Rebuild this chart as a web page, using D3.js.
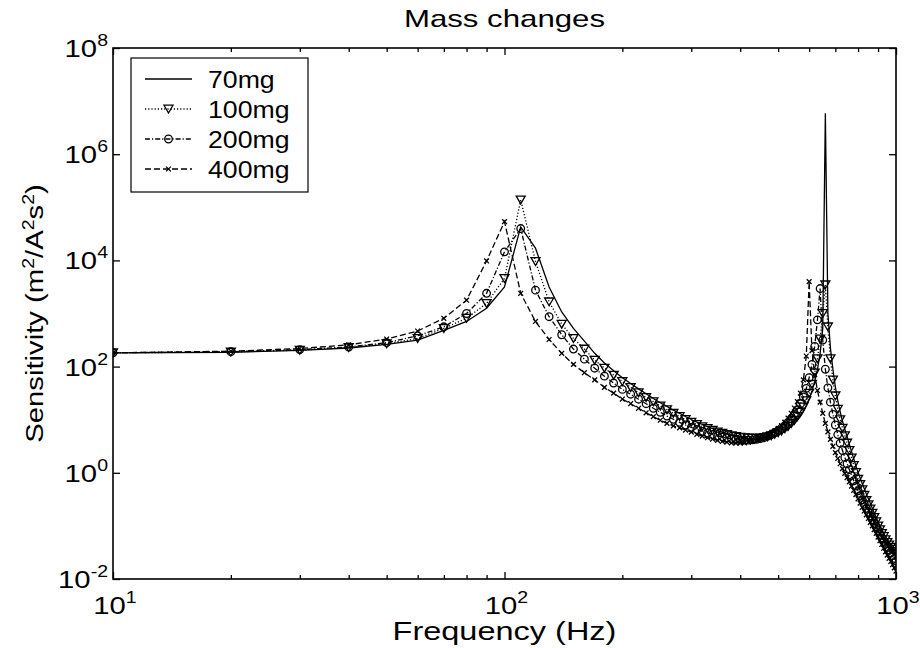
<!DOCTYPE html>
<html>
<head>
<meta charset="utf-8">
<script src="https://cdn.jsdelivr.net/npm/d3@7/dist/d3.min.js"></script>
<style>
  body { margin: 0; background: #fff; }
  text { font-family: Arial, "Liberation Sans", sans-serif; fill: #000; }
</style>
</head>
<body>
<div id="chart"></div>
<script>
// sample frequencies (Hz)
const freq = [
  10, 20, 30, 40, 50, 60, 70, 80, 90, 100,
  110, 120, 130, 140, 150, 160, 170, 180, 190, 200,
  210, 220, 230, 240, 250, 260, 270, 280, 290, 300,
  310, 320, 330, 340, 350, 360, 370, 380, 390, 400,
  410, 420, 430, 440, 450, 460, 470, 480, 490, 500,
  510, 520, 530, 540, 550, 560, 570, 580, 590, 600,
  610, 620, 630, 640, 650, 660, 670, 680, 690, 700,
  710, 720, 730, 740, 750, 760, 770, 780, 790, 800,
  810, 820, 830, 840, 850, 860, 870, 880, 890, 900,
  910, 920, 930, 940, 950, 960, 970, 980, 990, 1000
];

// sensitivity, m^2/A^2s^2
const s70 = [
  182, 186, 202, 224, 263, 316, 479, 708, 1260, 3160,
  42700, 17000, 3160, 1070, 525, 302, 178, 117, 83.2, 61.7,
  47.9, 38.0, 30.9, 25.1, 20.9, 17.8, 15.1, 13.2, 11.5, 10.1,
  9.02, 8.13, 7.41, 6.76, 6.24, 5.82, 5.43, 5.13, 4.90, 4.68,
  4.52, 4.42, 4.37, 4.32, 4.32, 4.37, 4.47, 4.68, 4.90, 5.19,
  5.56, 6.03, 6.61, 7.41, 8.41, 9.77, 11.5, 14.1, 18.2, 24.5,
  34.7, 52.5, 89.1, 178, 525, 5890000, 1000, 224, 89.1, 41.7,
  22.9, 14.1, 9.33, 6.61, 4.79, 3.47, 2.51, 1.82, 1.35, 1.02,
  0.794, 0.631, 0.501, 0.398, 0.324, 0.263, 0.214, 0.174, 0.145, 0.120,
  0.100, 0.0851, 0.0724, 0.0631, 0.0550, 0.0490, 0.0437, 0.0398, 0.0363, 0.0331
];
const s100 = [
  182, 188, 204, 229, 269, 339, 525, 813, 1550, 4570,
  138000, 9550, 1660, 631, 339, 214, 132, 93.3, 69.2, 52.5,
  40.7, 32.4, 26.3, 21.9, 18.2, 15.5, 13.2, 11.5, 10.1, 9.0,
  8.13, 7.41, 6.84, 6.31, 5.89, 5.56, 5.25, 5.01, 4.84, 4.68,
  4.57, 4.52, 4.47, 4.47, 4.52, 4.62, 4.79, 5.01, 5.31, 5.69,
  6.17, 6.76, 7.50, 8.51, 9.77, 11.5, 13.8, 17.4, 22.9, 31.6,
  46.8, 75.9, 141, 331, 1000, 3470, 562, 141, 56.2, 28.2,
  15.8, 10.0, 6.92, 5.01, 3.63, 2.63, 1.91, 1.38, 1.02, 0.759,
  0.603, 0.479, 0.380, 0.302, 0.251, 0.209, 0.174, 0.145, 0.120, 0.100,
  0.0851, 0.0724, 0.0631, 0.0550, 0.0490, 0.0437, 0.0398, 0.0363, 0.0331, 0.0302
];
const s200 = [
  182, 191, 209, 234, 282, 380, 562, 1000, 2400, 14500,
  39800, 2750, 871, 398, 214, 138, 93.3, 66.1, 49.0, 37.2,
  30.2, 24.3, 20.0, 16.4, 13.8, 11.7, 10.2, 8.91, 7.94, 7.16,
  6.53, 6.03, 5.62, 5.25, 4.95, 4.73, 4.52, 4.37, 4.27, 4.17,
  4.12, 4.12, 4.17, 4.27, 4.42, 4.62, 4.90, 5.25, 5.69, 6.24,
  6.92, 7.76, 8.91, 10.5, 12.6, 15.5, 20.0, 26.9, 38.9, 61.7,
  110, 240, 759, 2950, 316, 89.1, 39.8, 21.4, 12.6, 7.94,
  5.25, 3.63, 2.63, 1.95, 1.48, 1.15, 0.891, 0.708, 0.562, 0.457,
  0.372, 0.309, 0.257, 0.214, 0.182, 0.155, 0.132, 0.112, 0.0955, 0.0813,
  0.0692, 0.0589, 0.0513, 0.0447, 0.0389, 0.0347, 0.0309, 0.0275, 0.0245, 0.0219
];
const s400 = [
  182, 195, 219, 257, 331, 468, 813, 1780, 9770, 53700,
  2400, 708, 324, 178, 110, 76.7, 56.2, 40.7, 31.6, 24.5,
  20.0, 16.4, 13.5, 11.4, 9.77, 8.51, 7.67, 7.00, 6.38, 5.82,
  5.31, 4.90, 4.57, 4.32, 4.07, 3.89, 3.76, 3.67, 3.63, 3.63,
  3.67, 3.76, 3.89, 4.07, 4.32, 4.62, 5.01, 5.50, 6.10, 6.84,
  7.76, 9.02, 10.7, 13.2, 16.6, 21.9, 31.6, 56.2, 158, 3980,
  200, 70.8, 35.5, 21.4, 13.2, 8.51, 5.89, 4.27, 3.16, 2.40,
  1.86, 1.48, 1.20, 0.977, 0.813, 0.676, 0.562, 0.468, 0.389, 0.324,
  0.269, 0.224, 0.191, 0.162, 0.138, 0.117, 0.100, 0.0851, 0.0724, 0.0617,
  0.0525, 0.0447, 0.0380, 0.0324, 0.0282, 0.0245, 0.0214, 0.0186, 0.0162, 0.0141
];

const seriesNames = ["70mg", "100mg", "200mg", "400mg"];
const xMajor = [10, 100, 1000];
const xMinor = [20, 30, 40, 50, 60, 70, 80, 90, 200, 300, 400, 500, 600, 700, 800, 900];
const yMajor = [1e-2, 1, 1e2, 1e4, 1e6, 1e8];

const width = 920, height = 648;
const margin = {top: 48, right: 24, bottom: 69, left: 113};

const svg = d3.select("#chart").append("svg")
  .attr("width", width)
  .attr("height", height);

const x = d3.scaleLog().domain([10, 1000]).range([margin.left, width - margin.right]);
const y = d3.scaleLog().domain([1e-2, 1e8]).range([height - margin.bottom, margin.top]);

const styles = [
  {dash: null, marker: "none"},
  {dash: "1.2,2", marker: "tri"},
  {dash: "5,2,1.2,2", marker: "circle"},
  {dash: "6,3", marker: "x"}
];
const series = [s70, s100, s200, s400].map((vals, i) => ({
  name: seriesNames[i],
  style: styles[i],
  points: freq.map((f, j) => ({f: f, v: vals[j]}))
}));

svg.append("clipPath").attr("id", "plot-clip")
  .append("rect")
  .attr("x", x.range()[0]).attr("y", y.range()[1])
  .attr("width", x.range()[1] - x.range()[0])
  .attr("height", y.range()[0] - y.range()[1]);

function drawMarker(sel, type) {
  if (type == "tri") {
    sel.append("path").attr("d", "M-4.5,-3.8L4.5,-3.8L0,4Z");
  } else if (type == "circle") {
    sel.append("circle").attr("r", 3.8);
  } else if (type == "x") {
    sel.append("path").attr("d", "M-2.4,-2.4L2.4,2.4M-2.4,2.4L2.4,-2.4");
  }
  sel.selectAll("path, circle")
    .attr("fill", "none")
    .attr("stroke", "#000")
    .attr("stroke-width", 1.3);
}

const line = d3.line().x(d => x(d.f)).y(d => y(d.v));

const plot = svg.append("g").attr("clip-path", "url(#plot-clip)");

series.forEach(s => {
  const g = plot.append("g");
  g.append("path")
    .datum(s.points)
    .attr("d", line)
    .attr("fill", "none")
    .attr("stroke", "#000")
    .attr("stroke-width", 1.3)
    .attr("stroke-dasharray", s.style.dash);
  if (s.style.marker != "none") {
    g.selectAll("g.mk")
      .data(s.points)
      .join("g")
      .attr("class", "mk")
      .attr("transform", d => `translate(${x(d.f)},${y(d.v)})`)
      .each(function () { drawMarker(d3.select(this), s.style.marker); });
  }
});

// axes box with inward ticks on all four sides
const bottomY = y.range()[0], topY = y.range()[1];
const leftX = x.range()[0], rightX = x.range()[1];

function styleAxis(g) {
  g.select(".domain").remove();
  g.selectAll(".tick line").attr("stroke", "#000").attr("stroke-width", 1.3);
  g.selectAll(".tick text").remove();
}

svg.append("g").attr("transform", `translate(0,${bottomY})`)
  .call(d3.axisBottom(x).tickValues(xMajor).tickSize(-7)).call(styleAxis);
svg.append("g").attr("transform", `translate(0,${bottomY})`)
  .call(d3.axisBottom(x).tickValues(xMinor).tickSize(-4)).call(styleAxis);
svg.append("g").attr("transform", `translate(0,${topY})`)
  .call(d3.axisTop(x).tickValues(xMajor).tickSize(-7)).call(styleAxis);
svg.append("g").attr("transform", `translate(0,${topY})`)
  .call(d3.axisTop(x).tickValues(xMinor).tickSize(-4)).call(styleAxis);
svg.append("g").attr("transform", `translate(${leftX},0)`)
  .call(d3.axisLeft(y).tickValues(yMajor).tickSize(-7)).call(styleAxis);
svg.append("g").attr("transform", `translate(${rightX},0)`)
  .call(d3.axisRight(y).tickValues(yMajor).tickSize(-7)).call(styleAxis);

svg.append("rect")
  .attr("x", leftX).attr("y", topY)
  .attr("width", rightX - leftX).attr("height", bottomY - topY)
  .attr("fill", "none").attr("stroke", "#000").attr("stroke-width", 1.6);

// wide text placed at (px,py); the original's lettering is stretched sideways
function wideText(parent, px, py, size, anchor, stretch, rot) {
  return parent.append("text")
    .attr("transform", `translate(${px},${py})${rot ? " rotate(" + rot + ")" : ""} scale(${stretch},1)`)
    .attr("text-anchor", anchor)
    .attr("font-size", size);
}

// tick labels as 10^n
function powerLabel(sel, v) {
  const p = Math.round(Math.log10(v));
  sel.append("tspan").text("10");
  sel.append("tspan").attr("dy", -11).attr("font-size", 16).text(p);
}

const labels = svg.append("g");
xMajor.forEach(d => {
  powerLabel(wideText(labels, x(d) + 2, bottomY + 35, 24, "middle", 1.22), d);
});
yMajor.forEach(d => {
  powerLabel(wideText(labels, leftX - 5, y(d) + 9, 24, "end", 1.22), d);
});

// titles
wideText(svg, (leftX + rightX) / 2, 27, 24, "middle", 1.3).text("Mass changes");
wideText(svg, (leftX + rightX) / 2, 640, 25, "middle", 1.3).text("Frequency (Hz)");

const yl = wideText(svg, 43, (topY + bottomY) / 2, 24, "middle", 1.22, -90);
yl.append("tspan").text("Sensitivity (m");
yl.append("tspan").attr("dy", -9).attr("font-size", 16).text("2");
yl.append("tspan").attr("dy", 9).text("/A");
yl.append("tspan").attr("dy", -9).attr("font-size", 16).text("2");
yl.append("tspan").attr("dy", 9).text("s");
yl.append("tspan").attr("dy", -9).attr("font-size", 16).text("2");
yl.append("tspan").attr("dy", 9).text(")");

// legend
const legend = svg.append("g");
legend.append("rect")
  .attr("x", 131).attr("y", 58)
  .attr("width", 177).attr("height", 134)
  .attr("fill", "#fff").attr("stroke", "#000").attr("stroke-width", 1.2);

series.forEach((s, i) => {
  const ry = 79 + i * 30;
  const row = legend.append("g").attr("transform", `translate(0,${ry})`);
  row.append("line")
    .attr("x1", 145).attr("x2", 192)
    .attr("stroke", "#000").attr("stroke-width", 1.3)
    .attr("stroke-dasharray", s.style.dash);
  row.append("g")
    .attr("transform", "translate(168.5,0)")
    .call(g => drawMarker(g, s.style.marker));
  wideText(legend, 208, ry + 9, 23, "start", 1.16).text(s.name);
});
</script>
</body>
</html>
